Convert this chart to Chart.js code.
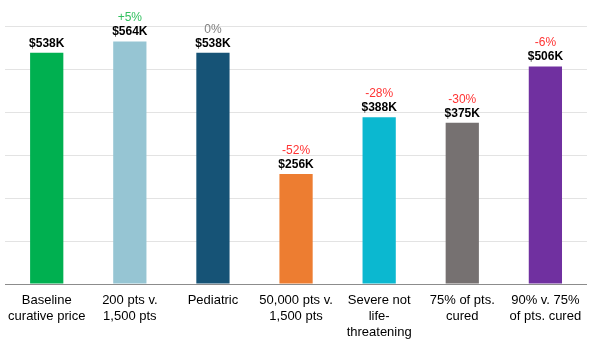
<!DOCTYPE html>
<html>
<head>
<meta charset="utf-8">
<script src="https://cdn.jsdelivr.net/npm/chart.js@4"></script>
<style>
  html, body { margin: 0; padding: 0; background: #ffffff; }
  #wrap { width: 589px; height: 344px; }
</style>
</head>
<body>
<div id="wrap"><canvas id="c" width="589" height="344"></canvas></div>
<script>
// Scenario categories (multi-line tick labels)
const categories = [
  ['Baseline', 'curative price'],
  ['200 pts v.', '1,500 pts'],
  ['Pediatric'],
  ['50,000 pts v.', '1,500 pts'],
  ['Severe not', 'life-', 'threatening'],
  ['75% of pts.', 'cured'],
  ['90% v. 75%', 'of pts. cured']
];
// Curative price in thousands of dollars
const priceK = [538, 564, 538, 256, 388, 375, 506];
// Change relative to the baseline price (null = no label)
const changeLabels = [null, '+5%', '0%', '-52%', '-28%', '-30%', '-6%'];
const changeColors = [null, '#33c060', '#808080', '#ff3333', '#ff3333', '#ff3333', '#ff3333'];
const barColors = ['#00b050', '#96c5d3', '#165376', '#ed7d31', '#0bb8d0', '#767171', '#7030a0'];

const valueLabels = {
  id: 'valueLabels',
  afterDatasetsDraw(chart) {
    const ctx = chart.ctx;
    const meta = chart.getDatasetMeta(0);
    ctx.save();
    ctx.textAlign = 'center';
    ctx.textBaseline = 'alphabetic';
    meta.data.forEach((bar, i) => {
      const yBase = bar.y - 6;
      ctx.font = 'bold 12px "Liberation Sans", Arial, sans-serif';
      ctx.fillStyle = '#000000';
      ctx.fillText('$' + priceK[i] + 'K', bar.x, yBase);
      if (changeLabels[i]) {
        ctx.font = '12px "Liberation Sans", Arial, sans-serif';
        ctx.fillStyle = changeColors[i];
        ctx.fillText(changeLabels[i], bar.x, yBase - 14);
      }
    });
    ctx.restore();
  }
};

new Chart(document.getElementById('c'), {
  type: 'bar',
  data: {
    labels: categories,
    datasets: [{
      data: priceK,
      backgroundColor: barColors,
      borderWidth: 0,
      barPercentage: 0.4,
      categoryPercentage: 1.0
    }]
  },
  options: {
    responsive: false,
    animation: false,
    devicePixelRatio: 1,
    layout: { padding: { top: 26, left: 3, right: 0, bottom: 0 } },
    plugins: {
      legend: { display: false },
      tooltip: { enabled: false }
    },
    scales: {
      x: {
        afterFit(scale) { scale.height = 60; },
        grid: { display: false, drawTicks: false },
        border: { display: true, color: '#8c8c8c', width: 1 },
        ticks: {
          color: '#000000',
          font: { family: '"Liberation Sans", Arial, sans-serif', size: 13, lineHeight: 1.25 },
          padding: 8,
          maxRotation: 0,
          autoSkip: false
        }
      },
      y: {
        min: 0,
        max: 600,
        afterFit(scale) { scale.width = 0; },
        ticks: { display: false, stepSize: 100 },
        grid: { color: '#e3e3e3', drawTicks: false },
        border: { display: false }
      }
    }
  },
  plugins: [valueLabels]
});
</script>
</body>
</html>
